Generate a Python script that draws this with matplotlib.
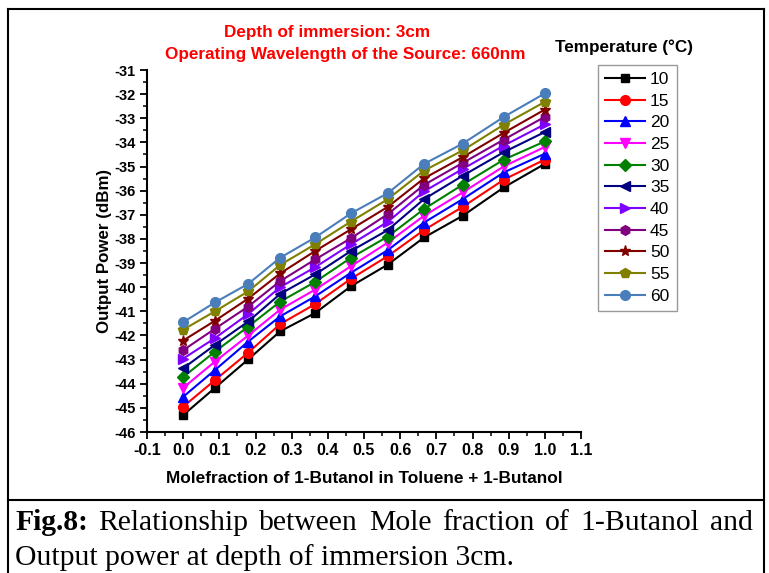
import matplotlib
matplotlib.use("Agg")
import matplotlib.pyplot as plt
from matplotlib.ticker import MultipleLocator
from matplotlib.lines import Line2D

plt.rcParams['font.family'] = ['Liberation Sans', 'DejaVu Sans']

# mole fraction of 1-butanol
molefraction = [0.0, 0.088, 0.18, 0.268, 0.365, 0.464, 0.566, 0.666, 0.773, 0.887, 1.0]

temperatures = ["10", "15", "20", "25", "30", "35", "40", "45", "50", "55", "60"]

# output power (dBm), one list per temperature
power_10 = [-45.30, -44.17, -42.99, -41.83, -41.07, -39.96, -39.06, -37.94, -37.04, -35.86, -34.89]
power_15 = [-44.95, -43.85, -42.71, -41.53, -40.70, -39.65, -38.71, -37.63, -36.67, -35.54, -34.71]
power_20 = [-44.54, -43.43, -42.25, -41.21, -40.38, -39.40, -38.46, -37.32, -36.35, -35.24, -34.47]
power_25 = [-44.17, -43.08, -42.00, -40.93, -40.10, -39.13, -38.15, -37.04, -36.07, -34.99, -34.19]
power_30 = [-43.72, -42.67, -41.63, -40.60, -39.78, -38.78, -37.90, -36.76, -35.75, -34.71, -33.96]
power_35 = [-43.36, -42.39, -41.42, -40.28, -39.47, -38.50, -37.63, -36.35, -35.38, -34.40, -33.57]
power_40 = [-42.96, -42.11, -41.11, -40.00, -39.17, -38.22, -37.29, -36.03, -35.10, -34.13, -33.25]
power_45 = [-42.61, -41.72, -40.80, -39.75, -38.85, -37.97, -36.97, -35.76, -34.85, -33.88, -32.94]
power_50 = [-42.21, -41.39, -40.47, -39.43, -38.50, -37.60, -36.67, -35.49, -34.61, -33.60, -32.64]
power_55 = [-41.76, -41.00, -40.17, -39.08, -38.22, -37.28, -36.35, -35.17, -34.33, -33.26, -32.32]
power_60 = [-41.45, -40.63, -39.86, -38.78, -37.94, -36.94, -36.10, -34.89, -34.05, -32.94, -31.97]

series = [power_10, power_15, power_20, power_25, power_30, power_35,
          power_40, power_45, power_50, power_55, power_60]
colors = ['black', '#ff0000', '#0000ff', '#ff00ff', '#008000', '#000080',
          '#8000ff', '#800080', '#800000', '#808000', '#4a7ebb']
markers = ['s', 'o', '^', 'v', 'D', '<', '>', 'h', '*', 'p', 'o']
msizes = [6, 7, 7, 7, 6, 7, 7, 7, 8, 7, 7]

W, H = 769, 573
fig = plt.figure(figsize=(W / 100, H / 100), dpi=100)
ax = fig.add_axes([147 / W, 1 - 432 / H, (581 - 147) / W, (432 - 70) / H])

handles = []
for vals, c, m, ms, lab in zip(series, colors, markers, msizes, temperatures):
    line, = ax.plot(molefraction, vals, color=c, marker=m, markersize=ms,
                    linewidth=1.5, markeredgecolor=c, label=lab)
    handles.append(line)

ax.set_xlim(-0.1, 1.1)
ax.set_ylim(-46, -31)
ax.xaxis.set_minor_locator(MultipleLocator(0.05))
ax.yaxis.set_minor_locator(MultipleLocator(0.5))
ax.set_xticks([round(-0.1 + 0.1 * i, 1) for i in range(13)])
ax.set_xticklabels(["%.1f" % round(-0.1 + 0.1 * i, 1) for i in range(13)],
                   fontsize=11.5, fontweight='bold')
ax.set_yticks(range(-46, -30))
ax.set_yticklabels([str(v) for v in range(-46, -30)],
                   fontsize=10.5, fontweight='bold')
ax.tick_params(which='major', direction='out', length=5, width=1.3, pad=3)
ax.tick_params(which='minor', direction='out', length=3, width=1.1)
ax.spines['top'].set_visible(False)
ax.spines['right'].set_visible(False)
ax.spines['left'].set_linewidth(1.5)
ax.spines['bottom'].set_linewidth(1.5)

ax.set_xlabel('Molefraction of 1-Butanol in Toluene + 1-Butanol',
              fontsize=12.4, fontweight='bold')
ax.set_ylabel('Output Power (dBm)', fontsize=12.2, fontweight='bold')
ax.xaxis.set_label_coords((364 - 147) / 434, -(471 - 432) / 362)
ax.yaxis.set_label_coords((112 - 147) / 434, 0.5)

# red heading
fig.text(327 / W, 1 - 33 / H, 'Depth of immersion: 3cm', color='#ff0000',
         fontsize=12.3, fontweight='bold', ha='center', va='center')
fig.text(345 / W, 1 - 55 / H, 'Operating Wavelength of the Source: 660nm',
         color='#ff0000', fontsize=12.3, fontweight='bold', ha='center', va='center')

# legend
fig.text(624 / W, 1 - 47 / H, 'Temperature (°C)', fontsize=12.3,
         fontweight='bold', ha='center', va='center')
leg = fig.legend(handles=handles, loc='upper left',
                 bbox_to_anchor=(598 / W, 1 - 65 / H), fontsize=12.5,
                 frameon=True, fancybox=False, edgecolor='#808080',
                 handlelength=2.3, handletextpad=0.3, labelspacing=0.375,
                 borderpad=0.4, borderaxespad=0)
leg.get_frame().set_linewidth(1.0)

# outer frame and caption separator
frame_kw = dict(color='black', linewidth=1.5, transform=fig.transFigure)
fig.add_artist(Line2D([8 / W, 764 / W], [1 - 9 / H, 1 - 9 / H], **frame_kw))
fig.add_artist(Line2D([8 / W, 8 / W], [0, 1 - 9 / H], **frame_kw))
fig.add_artist(Line2D([764 / W, 764 / W], [0, 1 - 9 / H], **frame_kw))
fig.add_artist(Line2D([8 / W, 764 / W], [1 - 500 / H, 1 - 500 / H], **frame_kw))

# caption, first line justified
cap_size = 21.3
serif = 'Liberation Serif'
r = fig.canvas.get_renderer()
words = ['Fig.8:', 'Relationship', 'between', 'Mole', 'fraction', 'of',
         '1-Butanol', 'and']
texts = []
for i, w in enumerate(words):
    t = fig.text(0, 1 - 530 / H, w, fontsize=cap_size, family=serif,
                 fontweight='bold' if i == 0 else 'normal', va='baseline')
    texts.append(t)
widths = [t.get_window_extent(r).width for t in texts]
x0, x1 = 15, 753
gap = (x1 - x0 - sum(widths)) / (len(words) - 1)
x = x0
for t, w in zip(texts, widths):
    t.set_x(x / W)
    x += w + gap
fig.text(x0 / W, 1 - 565 / H, 'Output power at depth of immersion 3cm.',
         fontsize=cap_size, family=serif, va='baseline')

fig.savefig('out.png', dpi=100)
